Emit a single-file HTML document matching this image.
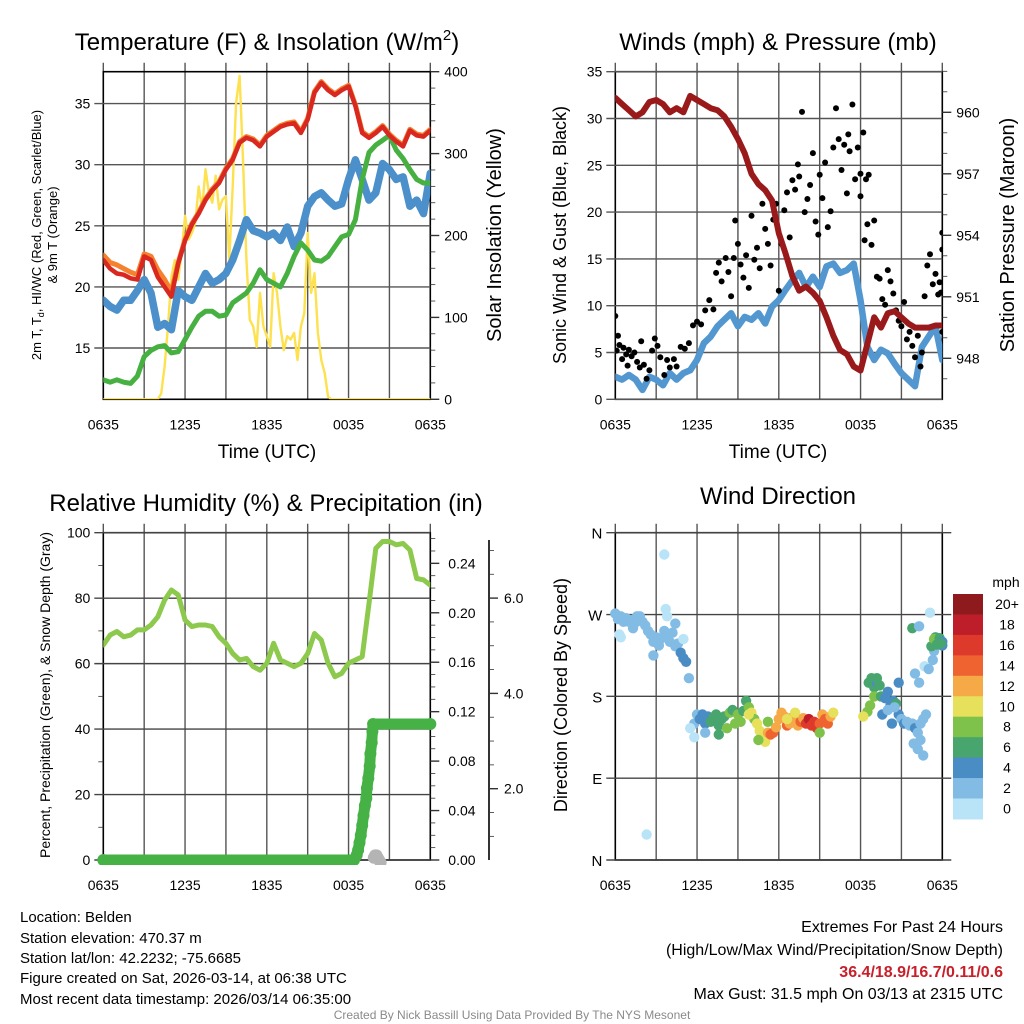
<!DOCTYPE html>
<html><head><meta charset="utf-8">
<style>
html,body{margin:0;padding:0;background:#fff;}
svg{display:block;font-family:"Liberation Sans",Arial,sans-serif;}
</style></head>
<body>
<svg id="fig" width="1024" height="1024" viewBox="0 0 1024 1024" xmlns="http://www.w3.org/2000/svg">
<defs>
<clipPath id="c1"><rect x="103.3" y="71.7" width="327" height="327.6"/></clipPath>
<clipPath id="c2"><rect x="615.3" y="71.7" width="327" height="327.6"/></clipPath>
<clipPath id="c3"><rect x="103.3" y="532.7" width="327" height="327.3"/></clipPath>
<clipPath id="c3b"><rect x="90" y="520" width="360" height="345"/></clipPath>
<clipPath id="c4"><rect x="609" y="526" width="340" height="340"/></clipPath>
</defs>
<g id="root"></g>
<g font-size="15" fill="#000">
<text x="20" y="922">Location: Belden</text>
<text x="20" y="943">Station elevation: 470.37 m</text>
<text x="20" y="963">Station lat/lon: 42.2232; -75.6685</text>
<text x="20" y="983">Figure created on Sat, 2026-03-14, at 06:38 UTC</text>
<text x="20" y="1004">Most recent data timestamp: 2026/03/14 06:35:00</text>
<text x="1003" y="932" text-anchor="end" font-size="16">Extremes For Past 24 Hours</text>
<text x="1003" y="955" text-anchor="end" font-size="16">(High/Low/Max Wind/Precipitation/Snow Depth)</text>
<text x="1003" y="977" text-anchor="end" font-size="16" font-weight="bold" fill="#c8202a">36.4/18.9/16.7/0.11/0.6</text>
<text x="1003" y="999" text-anchor="end" font-size="16">Max Gust: 31.5 mph On 03/13 at 2315 UTC</text>
<text x="512" y="1019" text-anchor="middle" font-size="12" fill="#8a8a8a">Created By Nick Bassill Using Data Provided By The NYS Mesonet</text>
</g>
</svg>
<script>
// ---------- DATA ----------
const tHalf = [0,0.5,1,1.5,2,2.5,3,3.5,4,4.5,5,5.5,6,6.5,7,7.5,8,8.5,9,9.5,10,10.5,11,11.5,12,12.5,13,13.5,14,14.5,15,15.5,16,16.5,17,17.5,18,18.5,19,19.5,20,20.5,21,21.5,22,22.5,23,23.5,24];
const xTickLabels = ["0635","1235","1835","0035","0635"];
const tempRed = [22.2,21.5,21.1,21.0,20.7,20.6,22.5,22.2,20.8,20.0,19.2,21.9,23.8,25.1,26.0,27.1,27.9,28.5,29.6,30.4,31.8,32.2,32.0,31.5,32.3,32.7,33.1,33.3,33.4,32.6,33.7,35.9,36.7,36.1,35.7,36.1,36.4,34.8,32.6,32.2,32.6,33.1,32.4,31.9,31.5,32.8,32.4,32.3,32.8];
const tempOrange = [22.6,22.0,21.8,21.5,21.2,21.0,22.7,22.5,21.4,20.6,19.6,22.0,23.9,25.2,26.1,27.2,28.0,28.6,29.7,30.5,31.9,32.3,32.1,31.6,32.4,32.8,33.2,33.4,33.5,32.7,33.8,36.0,36.8,36.2,35.8,36.2,36.5,34.9,32.7,32.3,32.7,33.2,32.5,32.0,31.6,32.9,32.5,32.4,32.9];
const dewGreen = [12.4,12.2,12.4,12.2,12.1,12.7,14.3,14.8,15.1,15.2,14.6,14.7,15.7,16.7,17.6,18.0,18.0,17.6,17.7,18.7,19.1,19.5,20.3,21.4,20.6,20.3,20.0,21.1,22.5,23.6,23.0,22.2,22.1,22.5,23.3,24.1,24.3,25.5,28.8,31.0,31.6,32.0,32.4,31.2,30.5,29.6,28.8,28.5,28.5];
const chillBlue = [18.9,18.4,18.1,18.9,18.9,19.7,20.6,19.5,16.7,17.0,16.5,19.7,19.2,18.9,20.0,21.1,20.3,20.6,21.1,22.2,23.8,25.5,24.6,24.4,24.1,24.4,23.8,24.9,23.3,24.4,26.6,27.4,27.7,27.1,26.6,26.8,28.8,30.4,28.8,27.1,27.7,30.1,29.6,28.8,29.0,26.6,27.1,26.0,29.3];
const solarT = [0,4,4.25,4.5,4.75,5,5.25,5.5,5.75,6,6.25,6.5,6.75,7,7.25,7.5,7.75,8,8.25,8.5,8.75,9,9.25,9.5,9.75,10,10.25,10.5,10.75,11,11.25,11.5,11.75,12,12.25,12.5,12.75,13,13.25,13.5,13.75,14,14.25,14.5,14.75,15,15.25,15.5,15.75,16,16.25,16.5,16.75,24];
const solarW = [0,0,7,40,89,150,170,146,179,224,195,203,216,260,232,281,252,240,273,232,244,248,171,260,362,395,293,171,97,89,64,130,89,77,64,154,130,89,60,77,73,81,48,89,105,203,130,154,81,48,32,3,0,0];
const pressure = [960.7,960.4,960.1,959.8,960.0,960.5,960.6,960.4,960.0,960.2,960.0,960.8,960.6,960.4,960.2,960.1,959.8,959.3,958.7,958.0,957.0,956.5,956.2,955.7,954.1,953.1,952.0,951.3,951.5,951.2,950.8,950.0,949.1,948.4,948.2,947.6,947.4,948.7,950.0,949.5,950.2,950.3,950.0,949.7,949.5,949.5,949.5,949.6,949.6];
const windSpeed = [2.4,2.1,2.6,2.1,1.0,2.4,2.1,1.5,2.8,2.1,2.8,3.1,4.2,6.0,6.7,7.8,8.5,9.2,7.8,8.8,8.5,9.2,8.1,9.9,10.6,11.7,12.7,13.5,12.0,13.1,12.0,14.2,14.5,13.5,13.8,14.5,10.6,5.6,4.2,5.3,4.9,3.8,2.8,2.1,1.4,5.6,6.7,7.8,4.2];
const gustT = [0,0.2,0.1,0.3,0.5,0.6,0.8,0.9,1.0,1.2,1.4,1.6,1.8,1.9,2.1,2.3,2.5,2.7,2.9,3.1,3.3,3.6,3.8,4.0,4.3,4.5,4.8,5.1,5.4,5.7,6.0,6.3,6.6,6.9,7.2,7.4,7.6,7.8,8.1,8.3,8.5,8.7,8.8,9.0,9.2,9.4,9.6,9.8,10.0,10.2,10.4,10.6,10.8,11.0,11.2,11.4,11.6,11.8,12.0,12.2,12.4,12.6,12.8,13.0,13.2,13.4,13.5,13.7,13.9,14.1,14.3,14.5,14.7,14.9,15.0,15.2,15.4,15.6,15.8,16.0,16.2,16.4,16.6,16.8,17.0,17.1,17.2,17.4,17.6,17.8,18.0,18.2,18.4,18.6,18.0,18.3,18.5,18.8,19.0,19.2,19.4,19.6,19.8,20.0,20.2,20.4,20.6,20.8,21.0,21.2,21.4,21.6,21.8,22.0,22.2,22.4,22.5,22.7,22.9,23.1,23.3,23.5,23.7,23.8,24.0,24.0,23.9,24.0];
const gustV = [8.9,6.8,5.2,5.8,4.3,5.5,4.8,3.6,5.3,4.6,5.0,4.0,3.4,6.2,3.7,2.2,3.1,5.2,6.5,5.7,4.5,2.6,4.2,3.4,4.3,3.5,5.6,5.4,6.0,7.9,8.3,8.0,9.5,10.6,9.6,13.5,14.6,12.6,15.1,13.6,11.0,15.1,19.1,16.6,14.4,13.0,15.4,11.9,19.6,14.9,16.2,14.0,20.9,18.2,16.6,14.3,19.2,20.9,11.6,16.6,20.2,22.1,17.3,23.4,22.4,25.1,23.8,30.7,20.0,21.4,22.9,26.3,19.0,17.6,24.0,21.5,25.3,18.4,20.1,26.9,31.1,27.8,24.5,27.2,22.0,28.3,26.5,31.5,23.5,26.9,24.1,28.5,23.5,24.0,21.7,17.0,18.7,16.5,19.1,13.1,12.9,10.7,10.1,13.8,12.6,11.3,9.5,8.4,7.8,10.4,6.4,7.2,5.7,4.5,6.8,3.5,5.0,11.0,14.3,15.5,12.3,13.4,11.2,12.5,17.8,16.0,11.4,7.2];
const rhGreen = [65.7,68.7,69.8,68.2,68.7,70.3,70.3,71.8,74.3,79.4,82.5,81.0,73.3,71.3,71.8,71.8,71.3,68.2,66.2,63.1,61.1,61.6,59.1,58.0,60.1,66.2,61.1,60.1,59.1,60.1,63.1,69.2,67.2,60.1,56.0,57.0,60.1,61.1,62.1,78.4,95.2,97.3,97.3,96.3,96.7,94.7,86.0,85.6,84.0];
const precipT = [0,18.4,18.6,18.7,18.8,18.9,19.0,19.1,19.2,19.3,19.35,19.45,19.55,19.6,19.7,19.75,19.8,24];
const precipIn = [0,0,0.004,0.008,0.014,0.02,0.028,0.036,0.044,0.05,0.058,0.066,0.076,0.086,0.095,0.104,0.110,0.110];
const snowT = [19.85,19.95,20.05,20.15,20.25,20.35];
const snowIn = [0.55,0.6,0.6,0.55,0.5,0.45];
const dirT = [0,0.2,0.4,0.6,0.8,1.0,1.2,1.4,1.6,1.8,2.0,2.2,2.4,2.6,2.8,3.0,3.2,3.4,3.6,3.8,4.0,4.2,4.4,4.6,4.8,5.0,5.2,5.4,0.3,0.4,1.3,2.8,3.6,2.3,3.7,3.8,5.0,4.4,
 5.8,6.0,6.2,6.4,6.6,6.8,7.0,7.2,7.4,7.6,7.8,8.0,8.2,8.4,8.6,8.8,9.0,9.2,9.4,9.6,9.8,10.0,10.2,10.4,10.6,10.8,11.0,11.2,11.4,11.6,11.8,12.0,12.2,12.4,12.6,12.8,13.0,13.2,13.4,13.6,13.8,14.0,14.2,14.4,14.6,14.8,15.0,15.2,15.4,15.6,15.8,16.0,15.0,12.6,11.2,10.5,7.6,6.6,5.8,5.5,9.8,
 18.5,18.7,18.2,18.6,18.8,19.0,19.2,19.0,19.5,19.8,20.0,20.2,20.4,20.6,20.8,21.0,21.2,21.4,21.6,21.8,22.0,22.2,22.4,22.6,22.8,22.2,22.4,22.6,22.0,22.3,19.6,20.0,20.3,20.5,21.9,22.7,23.0,23.4,23.2,23.5,23.7,24.0,23.4,23.8,24.0,23.9,23.6,23.1,23.3,21.8,22.3,20.8,19.4,19.2];
const dirDeg = [271,265,268,262,266,262,264,260,268,268,262,258,252,248,240,245,236,244,252,248,240,250,235,238,228,222,218,200,248,245,255,225,336,28,276,268,243,260,
 150,160,155,160,150,158,152,157,160,148,155,158,145,162,165,150,160,152,164,175,168,162,155,150,142,135,130,140,138,140,146,155,162,158,148,150,157,162,148,152,156,150,155,148,152,145,150,160,155,150,158,162,140,155,152,132,138,140,135,145,160,
 163,170,158,195,200,190,195,180,180,178,185,170,175,172,160,155,150,152,148,150,145,140,150,155,160,122,132,115,205,195,160,165,150,168,128,213,210,230,235,245,240,236,243,244,240,238,237,272,220,255,257,195,192,200];
const dirSpd = [3,3,3,3,3,3,3,3,3,3,3,3,3,3,3,3,3,3,3,3,3,3,3,3,4,4,4,3,1,1,3,2,0,0,1,1,1,2,
 3,3,4,4,4,5,6,6,6,7,7,7,8,9,6,8,9,9,7,6,8,10,9,11,10,10,11,13,15,15,13,13,12,12,15,12,13,10,12,14,13,16,18,17,16,17,15,13,14,15,12,10,8,10,9,8,6,3,1,1,10,
 9,9,10,6,6,6,4,8,6,4,4,5,4,6,4,3,4,3,3,3,4,3,3,3,2,2,2,2,3,2,4,3,4,3,3,1,2,2,6,7,6,5,8,7,5,6,6,1,2,6,2,4,6,6];
const cbLabels = ["20+","18","16","14","12","10","8","6","4","2","0"];
const cbColors = ["#8e1a1d","#be1e2a","#dd3a2c","#ef6330","#f6aa47","#e6e05b","#7fc24b","#48a56e","#4a8dc5","#82bce5","#b9e3f7"];

// ---------- HELPERS ----------
const NS="http://www.w3.org/2000/svg";
const root=document.getElementById('root');
function mk(tag,parent){const e=document.createElementNS(NS,tag);(parent||root).appendChild(e);return e;}
function txt(parent,x,y,s,size,anchor,rot){const t=mk('text',parent);t.setAttribute('x',x);t.setAttribute('y',y);t.setAttribute('font-size',size);t.setAttribute('text-anchor',anchor||'middle');if(rot!==undefined){t.setAttribute('transform','rotate('+rot+' '+x+' '+y+')');}t.textContent=s;return t;}
function line(parent,x1,y1,x2,y2,col,w){const l=mk('line',parent);l.setAttribute('x1',x1);l.setAttribute('y1',y1);l.setAttribute('x2',x2);l.setAttribute('y2',y2);l.setAttribute('stroke',col);l.setAttribute('stroke-width',w);return l;}
function poly(parent,xs,ys,sx,sy,col,w){const p=mk('polyline',parent);p.setAttribute('points',xs.map((x,i)=>sx(x).toFixed(1)+','+sy(ys[i]).toFixed(1)).join(' '));p.setAttribute('fill','none');p.setAttribute('stroke',col);p.setAttribute('stroke-width',w);p.setAttribute('stroke-linejoin','round');p.setAttribute('stroke-linecap','round');return p;}
function dot(parent,x,y,r,col){const c=mk('circle',parent);c.setAttribute('cx',x.toFixed(1));c.setAttribute('cy',y.toFixed(1));c.setAttribute('r',r);c.setAttribute('fill',col);return c;}

function frame(name,x0,y0,x1,y1,sx){
  const g=mk('g');
  
  
  for(let h=0;h<=24;h+=3){const X=sx(h);line(g,X,y0-9,X,y1,'#555',1.4);}
  xTickLabels.forEach((s,i)=>{const t=txt(g,sx(i*6),y1+30,s,14);
    
    });
  const r=mk('rect',g);r.setAttribute('x',x0);r.setAttribute('y',y0);r.setAttribute('width',x1-x0);r.setAttribute('height',y1-y0);r.setAttribute('fill','none');r.setAttribute('stroke','#000');r.setAttribute('stroke-width',1.6);
  return g;
}

// ============ PANEL 1 ============
(function(){
 const x0=103.3,x1=430.3,y0=71.7,y1=399.3;
 const sx=h=>x0+h*(x1-x0)/24, sy=v=>348-(v-15)*12.22, sw=w=>y1-w*0.819;
 const g=frame('temperature-panel',x0,y0,x1,y1,sx);
 [15,20,25,30,35].forEach(v=>{line(g,x0-9,sy(v),x1,sy(v),'#555',1.4);const t=txt(g,x0-13,sy(v)+5,String(v),14,'end');
  
  });
 for(let w=0;w<=400;w+=20){line(g,x1,sw(w),x1+(w%100===0?9:5),sw(w),'#333',w%100===0?1.4:0.8);}
 [0,100,200,300,400].forEach(w=>{const t=txt(g,x1+14,sw(w)+5,String(w),14,'start');
  
  });
 const c=mk('g');c.setAttribute('clip-path','url(#c1)');
 
 
 let p;
 p=poly(c,solarT,solarW,sx,sw,'#fde14e',2.4);
 
 
 p=poly(c,tHalf,chillBlue,sx,sy,'#4b90ca',7.5);
 
 
 p=poly(c,tHalf,dewGreen,sx,sy,'#46b041',5);
 
 
 p=poly(c,tHalf,tempOrange,sx,sy,'#f5812f',5);
 
 
 p=poly(c,tHalf,tempRed,sx,sy,'#d82820',4.5);
 
 
 let t=mk('text');t.setAttribute('x',267);t.setAttribute('y',50);t.setAttribute('font-size',24);t.setAttribute('text-anchor','middle');
 t.innerHTML='Temperature (F) &amp; Insolation (W/m<tspan font-size="15" dy="-10">2</tspan><tspan dy="10">)</tspan>';
 
 
 t=txt(root,267,458,'Time (UTC)',19);
 
 
 t=mk('text');t.setAttribute('font-size',13);t.setAttribute('text-anchor','middle');t.setAttribute('transform','translate(41,235) rotate(-90)');
 t.innerHTML='2m T, T<tspan font-size="9" dy="3">d</tspan><tspan dy="-3">, HI/WC (Red, Green, Scarlet/Blue)</tspan>';
 
 
 t=txt(root,57,235,'& 9m T (Orange)',13,'middle',-90);
 
 
 t=txt(root,501,235,'Solar Insolation (Yellow)',20,'middle',-90);
 
 
})();

// ============ PANEL 2 ============
(function(){
 const x0=615.3,x1=942.3,y0=71.7,y1=399.3;
 const sx=h=>x0+h*(x1-x0)/24, sy=v=>y1-v*9.36, sp=p=>112.3+(960-p)*20.5;
 const g=frame('winds-panel',x0,y0,x1,y1,sx);
 [0,5,10,15,20,25,30,35].forEach(v=>{line(g,x0-9,sy(v),x1,sy(v),'#555',1.4);const t=txt(g,x0-13,sy(v)+5,String(v),14,'end');
  
  });
 for(let p=947;p<=962;p++){const Y=sp(p);if(Y<y0-1||Y>y1+1)continue;line(g,x1,Y,x1+(p%3===0?9:5),Y,'#333',p%3===0?1.4:0.8);}
 [948,951,954,957,960].forEach(p=>{const t=txt(g,x1+14,sp(p)+5,String(p),14,'start');
  
  });
 const c=mk('g');c.setAttribute('clip-path','url(#c2)');
 
 
 let p=poly(c,tHalf,windSpeed,sx,sy,'#5297d0',6.5);
 
 
 gustT.forEach((h,i)=>{const d=dot(c,sx(h),sy(gustV[i]),3,'#000');
  
  });
 p=poly(c,tHalf,pressure,sx,sp,'#9a1a1b',6);
 
 
 let t=txt(root,778,50,'Winds (mph) & Pressure (mb)',24);
 
 
 t=txt(root,778,458,'Time (UTC)',19);
 
 
 t=txt(root,566,235,'Sonic Wind & Gust (Blue, Black)',18,'middle',-90);
 
 
 t=txt(root,1014,235,'Station Pressure (Maroon)',20,'middle',-90);
 
 
})();

// ============ PANEL 3 ============
(function(){
 const x0=103.3,x1=430.3,y0=532.7,y1=860;
 const sx=h=>x0+h*(x1-x0)/24, sy=v=>y1-v*3.273, spr=p=>y1-p*1236.1, ss=s=>884-s*47.65;
 const g=frame('humidity-panel',x0,y0,x1,y1,sx);
 [0,20,40,60,80,100].forEach(v=>{line(g,x0-9,sy(v),x1,sy(v),'#444',1.4);const t=txt(g,x0-13,sy(v)+5,String(v),14,'end');
  
  });
 for(let v=10;v<100;v+=20){line(g,x0-5,sy(v),x0,sy(v),'#333',0.8);}
 for(let k=0;k<=26;k++){const p=k/100;line(g,x1,spr(p),x1+(k%4===0?9:5),spr(p),'#333',k%4===0?1.4:0.8);}
 ['0.00','0.04','0.08','0.12','0.16','0.20','0.24'].forEach((s,i)=>{const t=txt(g,x1+18,spr(i*0.04)+5,s,14,'start');
  
  });
 line(g,489,540,489,860,'#000',1.6);
 for(let s=0.5;s<=7;s+=0.5){const Y=ss(s);if(Y<540||Y>860)continue;line(g,489,Y,489+(s%2===0?9:5),Y,'#333',s%2===0?1.4:0.8);}
 ['2.0','4.0','6.0'].forEach((s,i)=>{const t=txt(g,504,ss((i+1)*2)+5,s,14,'start');
  
  });
 const c=mk('g');c.setAttribute('clip-path','url(#c3)');
 
 
 let p=poly(c,tHalf,rhGreen,sx,sy,'#8cc94d',5);
 
 
 const c2=mk('g');c2.setAttribute('clip-path','url(#c3b)');
 
 
 snowT.forEach((h,i)=>{const d=dot(c2,sx(h),ss(snowIn[i]),6,'#b4b4b4');
  
  });
 p=poly(c2,precipT,precipIn,sx,spr,'#46b145',11);
 
 
 precipT.forEach((h,i)=>{const d=dot(c2,sx(h),spr(precipIn[i]),6,'#46b145');
  
  });
 let t=txt(root,266,511,'Relative Humidity (%) & Precipitation (in)',24);
 
 
 t=txt(root,50,695,'Percent, Precipitation (Green), & Snow Depth (Gray)',14,'middle',-90);
 
 
})();

// ============ PANEL 4 ============
(function(){
 const x0=615.3,x1=942.3,y0=532.7,y1=860;
 const sx=h=>x0+h*(x1-x0)/24, sd=d=>y1-d*(y1-y0)/360;
 const g=frame('wind-direction-panel',x0,y0,x1,y1,sx);
 ['N','E','S','W','N'].forEach((s,i)=>{line(g,x0-9,sd(i*90),x1+9,sd(i*90),'#444',1.4);const t=txt(g,x0-13,sd(i*90)+6,s,15,'end');
  
  });
 const c=mk('g');c.setAttribute('clip-path','url(#c4)');
 
 
 const colFor=s=>{let k=Math.min(10,Math.floor(s/2));return cbColors[10-k];};
 dirT.forEach((h,i)=>{const d=dot(c,sx(h),sd(dirDeg[i]),5.2,colFor(dirSpd[i]));
  
  });
 const cb=mk('g');
 
 
 const cy0=594,ch=20.45;
 cbColors.forEach((col,i)=>{const r=mk('rect',cb);r.setAttribute('x',953);r.setAttribute('y',cy0+i*ch);r.setAttribute('width',30);r.setAttribute('height',ch+0.5);r.setAttribute('fill',col);
  
  });
 cbLabels.forEach((s,i)=>{const t=txt(cb,1007,cy0+i*ch+15,s,14,'middle');
  
  });
 let t=txt(cb,1006,587,'mph',14);
 
 
 t=txt(root,778,504,'Wind Direction',24);
 
 
 t=txt(root,567,695,'Direction (Colored By Speed)',18,'middle',-90);
 
 
})();
</script>
</body></html>
